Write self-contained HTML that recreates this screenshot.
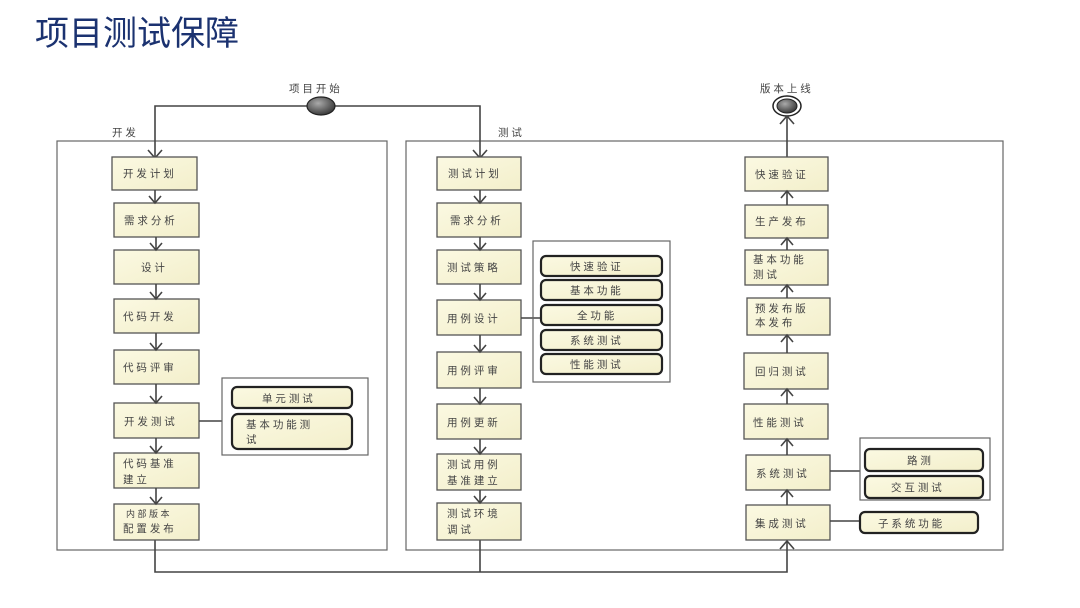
<!DOCTYPE html>
<html><head><meta charset="utf-8"><style>
html,body{margin:0;padding:0;background:#fff;width:1080px;height:608px;overflow:hidden}
svg{display:block}
.t{font-family:"Liberation Sans","Noto Sans CJK SC",sans-serif;font-size:10.5px;fill:#444}
.b{fill:url(#g);stroke:#555;stroke-width:1.3}
.p{fill:url(#g);stroke:#222;stroke-width:2.2}
.l{stroke:#444;stroke-width:1.6;fill:none}
.a{stroke:#444;stroke-width:1.6;fill:none}
.c{fill:none;stroke:#666;stroke-width:1.2}
</style></head><body>
<svg width="1080" height="608" viewBox="0 0 1080 608">
<defs>
<linearGradient id="g" x1="0" y1="0" x2="1" y2="1"><stop offset="0" stop-color="#fbf9e2"/><stop offset="1" stop-color="#f3efcb"/></linearGradient>
<radialGradient id="e" cx="0.4" cy="0.35" r="0.7"><stop offset="0" stop-color="#aaa"/><stop offset="1" stop-color="#333"/></radialGradient>
</defs>
<text x="35" y="45" style="font-family:'Liberation Sans','Noto Sans CJK SC',sans-serif;font-size:34px;fill:#1b3270">项目测试保障</text>

<!-- containers -->
<rect x="57" y="141" width="330" height="409" class="c"/>
<rect x="406" y="141" width="597" height="409" class="c"/>
<text x="112" y="136" class="t">开 发</text>
<text x="498" y="136" class="t">测 试</text>

<!-- start / end -->
<text x="289" y="92" class="t">项  目 开 始</text>
<text x="760" y="92" class="t">版 本 上 线</text>
<path class="l" d="M307 106 H155 V158 M335 106 H480 V158"/>
<path class="a" d="M148 150 L155 158 L162 150 M473 150 L480 158 L487 150"/>
<ellipse cx="321" cy="106" rx="14" ry="9" fill="url(#e)" stroke="#222" stroke-width="1.2"/>
<ellipse cx="787" cy="106" rx="14" ry="10" fill="#fff" stroke="#222" stroke-width="1.5"/>
<ellipse cx="787" cy="106" rx="10" ry="7" fill="url(#e)" stroke="#222"/>
<path class="l" d="M787 116 V157"/>
<path class="a" d="M780 124 L787 116 L794 124"/>

<!-- bottom flow -->
<path class="l" d="M155 540 V572 H787 V541 M480 540 V572"/>
<path class="a" d="M780 549 L787 541 L794 549"/>

<!-- dev column -->
<g>
<rect x="112" y="157" width="85" height="33" class="b"/><text x="123" y="177" class="t">开 发 计 划</text>
<rect x="114" y="203" width="85" height="34" class="b"/><text x="124" y="224" class="t">需 求 分 析</text>
<rect x="114" y="250" width="85" height="34" class="b"/><text x="141" y="271" class="t">设 计</text>
<rect x="114" y="299" width="85" height="34" class="b"/><text x="123" y="320" class="t">代 码 开 发</text>
<rect x="114" y="350" width="85" height="34" class="b"/><text x="123" y="371" class="t">代 码 评 审</text>
<rect x="114" y="403" width="85" height="35" class="b"/><text x="124" y="425" class="t">开 发 测 试</text>
<rect x="114" y="453" width="85" height="35" class="b"/><text x="123" y="467" class="t">代 码 基 准</text><text x="123" y="483" class="t">建 立</text>
<rect x="114" y="504" width="85" height="36" class="b"/><text x="126" y="517" class="t" style="font-size:9px">内 部 版 本</text><text x="123" y="532" class="t">配 置 发 布</text>
<path class="l" d="M155 190 V203 M156 237 V250 M156 284 V299 M156 333 V350 M156 384 V403 M156 438 V453 M156 488 V504"/>
<path class="a" d="M149 196 L155 203 L161 196 M150 243 L156 250 L162 243 M150 292 L156 299 L162 292 M150 343 L156 350 L162 343 M150 396 L156 403 L162 396 M150 446 L156 453 L162 446 M150 497 L156 504 L162 497"/>
<path class="l" d="M199 421 H222"/>
<rect x="222" y="378" width="146" height="77" class="c"/>
<rect x="232" y="387" width="120" height="21" rx="5" class="p"/><text x="262" y="402" class="t">单 元 测 试</text>
<rect x="232" y="414" width="120" height="35" rx="6" class="p"/><text x="246" y="428" class="t">基 本 功 能 测</text><text x="246" y="443" class="t">试</text>
</g>

<!-- test column 1 -->
<g>
<rect x="437" y="157" width="84" height="33" class="b"/><text x="448" y="177" class="t">测 试 计 划</text>
<rect x="437" y="203" width="84" height="34" class="b"/><text x="450" y="224" class="t">需 求 分 析</text>
<rect x="437" y="250" width="84" height="34" class="b"/><text x="447" y="271" class="t">测 试 策 略</text>
<rect x="437" y="300" width="84" height="35" class="b"/><text x="447" y="322" class="t">用 例 设 计</text>
<rect x="437" y="352" width="84" height="36" class="b"/><text x="447" y="374" class="t">用 例 评 审</text>
<rect x="437" y="404" width="84" height="35" class="b"/><text x="447" y="426" class="t">用 例 更 新</text>
<rect x="437" y="454" width="84" height="36" class="b"/><text x="447" y="468" class="t">测 试 用 例</text><text x="447" y="484" class="t">基 准 建 立</text>
<rect x="437" y="503" width="84" height="37" class="b"/><text x="447" y="517" class="t">测 试 环 境</text><text x="447" y="533" class="t">调 试</text>
<path class="l" d="M480 190 V203 M480 237 V250 M480 284 V300 M480 335 V352 M480 388 V404 M480 439 V454 M480 490 V503"/>
<path class="a" d="M474 196 L480 203 L486 196 M474 243 L480 250 L486 243 M474 293 L480 300 L486 293 M474 345 L480 352 L486 345 M474 397 L480 404 L486 397 M474 447 L480 454 L486 447 M474 496 L480 503 L486 496"/>
<path class="l" d="M521 318 H541"/>
<rect x="533" y="241" width="137" height="141" class="c"/>
<rect x="541" y="256" width="121" height="20" rx="5" class="p"/><text x="570" y="270" class="t">快 速 验 证</text>
<rect x="541" y="280" width="121" height="20" rx="5" class="p"/><text x="570" y="294" class="t">基 本 功 能</text>
<rect x="541" y="305" width="121" height="20" rx="5" class="p"/><text x="577" y="319" class="t">全 功 能</text>
<rect x="541" y="330" width="121" height="20" rx="5" class="p"/><text x="570" y="344" class="t">系 统 测 试</text>
<rect x="541" y="354" width="121" height="20" rx="5" class="p"/><text x="570" y="368" class="t">性 能 测 试</text>
</g>

<!-- test column 2 -->
<g>
<rect x="745" y="157" width="83" height="34" class="b"/><text x="755" y="178" class="t">快 速 验 证</text>
<rect x="745" y="205" width="83" height="33" class="b"/><text x="755" y="225" class="t">生 产 发 布</text>
<rect x="745" y="250" width="83" height="35" class="b"/><text x="753" y="263" class="t">基 本 功 能</text><text x="753" y="278" class="t">测 试</text>
<rect x="747" y="298" width="83" height="37" class="b"/><text x="755" y="312" class="t">预 发 布 版</text><text x="755" y="326" class="t">本 发 布</text>
<rect x="744" y="353" width="84" height="36" class="b"/><text x="755" y="375" class="t">回 归 测 试</text>
<rect x="744" y="404" width="84" height="35" class="b"/><text x="753" y="426" class="t">性 能 测 试</text>
<rect x="746" y="455" width="84" height="35" class="b"/><text x="756" y="477" class="t">系 统 测 试</text>
<rect x="746" y="505" width="84" height="35" class="b"/><text x="755" y="527" class="t">集 成 测 试</text>
<path class="l" d="M787 191 V205 M787 238 V250 M787 285 V298 M787 335 V353 M787 389 V404 M787 439 V455 M787 490 V505"/>
<path class="a" d="M781 198 L787 191 L793 198 M781 245 L787 238 L793 245 M781 292 L787 285 L793 292 M781 342 L787 335 L793 342 M781 396 L787 389 L793 396 M781 446 L787 439 L793 446 M781 497 L787 490 L793 497"/>
<path class="l" d="M830 471 H860 M830 521 H860"/>
<rect x="860" y="438" width="130" height="62" class="c"/>
<rect x="865" y="449" width="118" height="22" rx="5" class="p"/><text x="907" y="464" class="t">路 测</text>
<rect x="865" y="476" width="118" height="22" rx="5" class="p"/><text x="891" y="491" class="t">交 互 测 试</text>
<rect x="860" y="512" width="118" height="21" rx="5" class="p"/><text x="878" y="527" class="t">子 系 统 功 能</text>
</g>
</svg>
</body></html>
